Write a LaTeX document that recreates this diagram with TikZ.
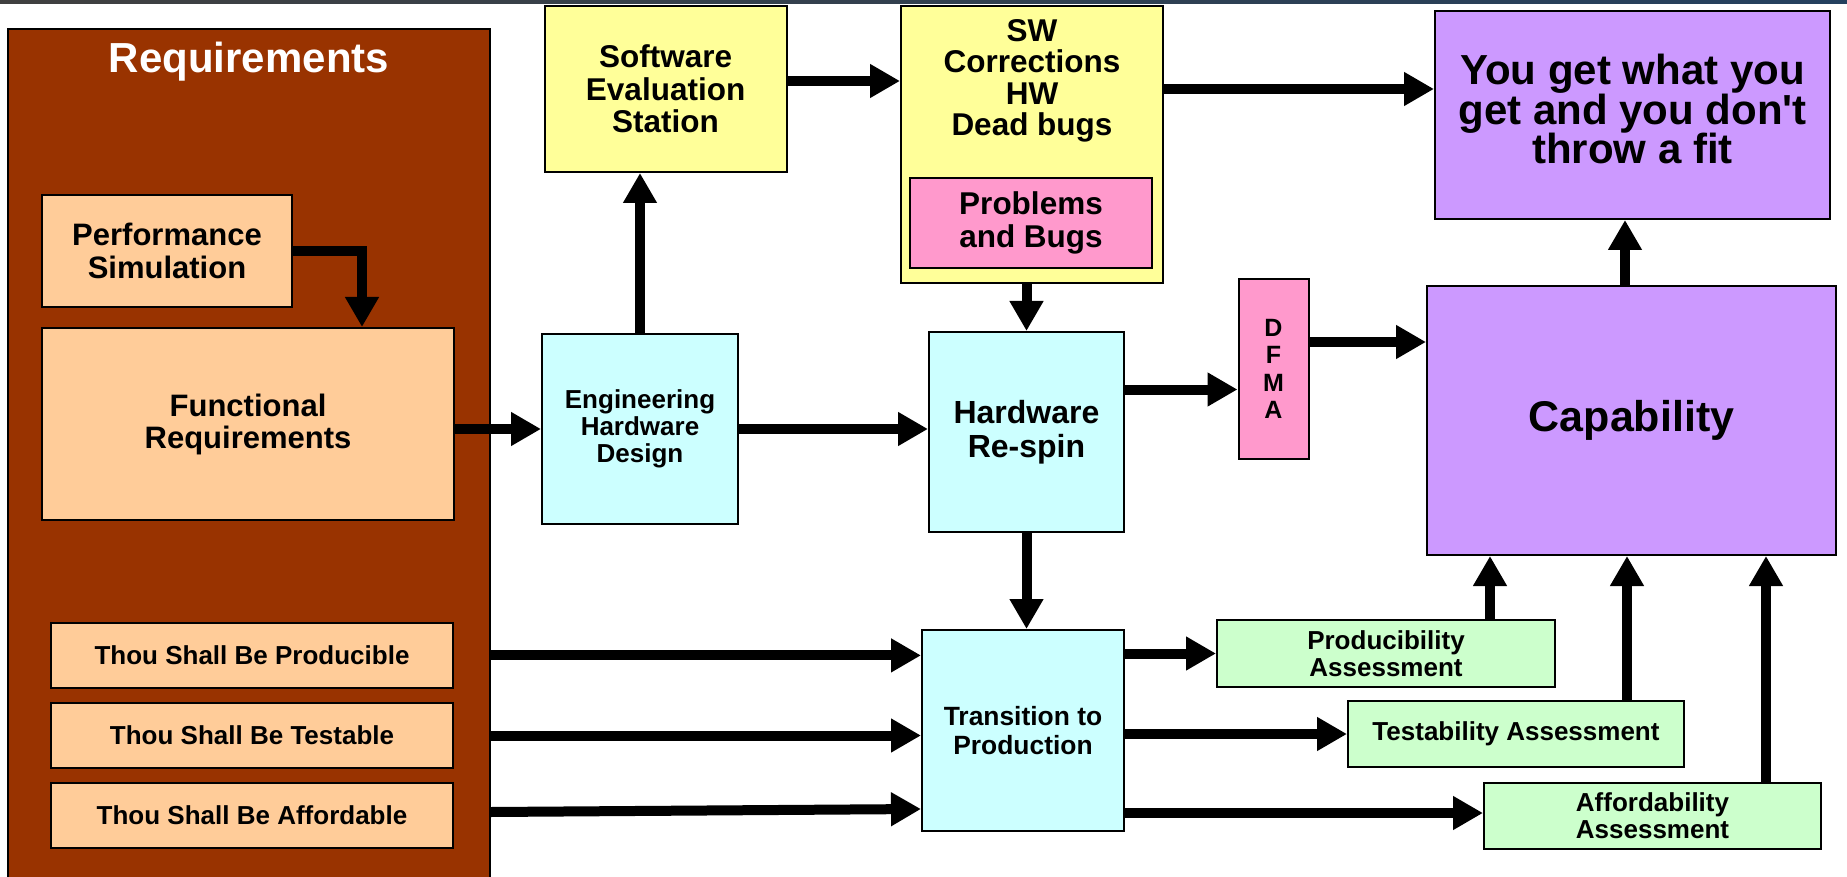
\documentclass[tikz,border=0pt]{standalone}
\usepackage{fontspec}
\setmainfont{Liberation Sans}
\newfontfamily\arialfont{Liberation Sans}
\usetikzlibrary{arrows.meta,calc}
\definecolor{reqbrown}{HTML}{993300}
\definecolor{peach}{HTML}{FFCC99}
\definecolor{paleyellow}{HTML}{FFFF99}
\definecolor{pinkbox}{HTML}{FF99CC}
\definecolor{lavender}{HTML}{CC99FF}
\definecolor{palecyan}{HTML}{CCFFFF}
\definecolor{palegreen}{HTML}{CCFFCC}
\definecolor{topbarblue}{HTML}{24405E}
\newcommand{\fsz}[2]{\arialfont\fontsize{#1pt}{#2pt}\selectfont\bfseries}
\begin{document}
\begin{tikzpicture}[x=1pt,y=-1pt,
  box/.style={draw=black, line width=2pt, inner sep=0pt, align=center},
  arr/.style={line width=10pt, line join=miter, -{Triangle[length=30pt,width=32pt]}},
  ]
\clip (0,0) rectangle (1847,877);
\fill[white] (0,0) rectangle (1847,877);
\shade[left color=black!75, right color=topbarblue] (0,0) rectangle (1847,3.5);

% Requirements column
\node[box, fill=reqbrown, minimum width=481.6pt, minimum height=861pt] (req) at (249.2,459.5) {};
\node[text=white, font=\fsz{42}{44}, anchor=base, inner sep=0pt] (title) at (249,73) {Requirements};
\node[box, fill=peach, font=\fsz{31}{33}, minimum width=250pt, minimum height=112pt] (perf) at (167,251) {Performance\\Simulation};
\node[box, fill=peach, font=\fsz{31}{32}, minimum width=412pt, minimum height=192pt] (func) at (248,424) {Functional\\Requirements};
\node[box, fill=peach, font=\fsz{26}{28}, minimum width=402pt, minimum height=65pt] (thou1) at (252,655.4) {Thou Shall Be Producible};
\node[box, fill=peach, font=\fsz{26}{28}, minimum width=402pt, minimum height=65pt] (thou2) at (252,735.5) {Thou Shall Be Testable};
\node[box, fill=peach, font=\fsz{26}{28}, minimum width=402pt, minimum height=65pt] (thou3) at (252,815.5) {Thou Shall Be Affordable};

% top row
\node[box, fill=paleyellow, font=\fsz{31.5}{32.5}, minimum width=242pt, minimum height=166pt] (ses) at (665.6,89) {Software\\Evaluation\\Station};
\node[box, fill=paleyellow, minimum width=262pt, minimum height=277pt] (swc) at (1032,144.5) {};
\node[font=\fsz{31.5}{31.5}, align=center, inner sep=0pt] (swctext) at (1032,81) {SW\\Corrections\\HW\\Dead bugs};
\node[box, fill=pinkbox, font=\fsz{31.5}{33}, minimum width=242pt, minimum height=90pt] (prob) at (1031,223) {Problems\\and Bugs};
\node[box, fill=lavender, minimum width=395pt, minimum height=208pt] (you) at (1632.5,115) {};
\node[font=\fsz{42}{39.5}, align=center, inner sep=0pt] (youtext) at (1632.5,109) {You get what you\\get and you don't\\throw a fit};

% middle row
\node[box, fill=palecyan, font=\fsz{26}{26.7}, minimum width=196pt, minimum height=190pt] (ehd) at (640,429) {Engineering\\Hardware\\Design};
\node[box, fill=palecyan, font=\fsz{32}{34}, minimum width=195pt, minimum height=200pt] (hwr) at (1026.5,432) {Hardware\\Re-spin};
\node[box, fill=pinkbox, font=\fsz{25}{27.4}, minimum width=70pt, minimum height=180pt] (dfma) at (1273.5,369) {D\\F\\M\\A};
\node[box, fill=lavender, font=\fsz{43}{45}, minimum width=409pt, minimum height=269pt] (cap) at (1631.5,420.5) {Capability};

% bottom row
\node[box, fill=palecyan, font=\fsz{26.4}{29}, minimum width=202pt, minimum height=201pt] (trans) at (1023,730.5) {Transition to\\Production};
\node[box, fill=palegreen, font=\fsz{26}{27}, minimum width=338pt, minimum height=67pt] (prod) at (1386,653.5) {Producibility\\Assessment};
\node[box, fill=palegreen, font=\fsz{26}{27}, minimum width=336pt, minimum height=66pt] (test) at (1516,734) {Testability Assessment};
\node[box, fill=palegreen, font=\fsz{26}{27}, minimum width=337pt, minimum height=66pt] (aff) at (1652.5,816) {Affordability\\Assessment};

% connectors
\draw[arr] (perf.east) -| ($(func.north)+(114,0)$);
\draw[arr] (func.east |- ehd.west) -- (ehd.west);
\draw[arr] (ehd.north) -- (ehd.north |- ses.south);
\draw[arr] ($(ses.east)+(0,-8)$) -- ($(ses.east -| swc.west)+(0,-8)$);
\draw[arr] ($(swc.east |- you.west)+(0,-26)$) -- ($(you.west)+(0,-26)$);
\draw[arr] (hwr.north |- swc.south) -- (hwr.north);
\draw[arr] (ehd.east) -- (ehd.east -| hwr.west);
\draw[arr] ($(hwr.east)+(0,-42.5)$) -- ($(hwr.east -| dfma.west)+(0,-42.5)$);
\draw[arr] ($(dfma.east)+(0,-27)$) -- ($(dfma.east -| cap.west)+(0,-27)$);
\draw[arr] ($(cap.north)+(-6.5,0)$) -- ($(cap.north |- you.south)+(-6.5,0)$);
\draw[arr] (hwr.south) -- (hwr.south |- trans.north);
\draw[arr] (req.east |- thou1.east) -- (trans.west |- thou1.east);
\draw[arr] (req.east |- thou2.east) -- (trans.west |- thou2.east);
\draw[arr] ($(req.east |- thou3.east)+(0,-3.5)$) -- ($(trans.west |- thou3.east)+(0,-6.5)$);
\draw[arr] (trans.east |- prod.west) -- (prod.west);
\draw[arr] (trans.east |- test.west) -- (test.west);
\draw[arr] ($(trans.east |- aff.west)+(0,-3)$) -- ($(aff.west)+(0,-3)$);
\draw[arr] ($(prod.north)+(104,0)$) -- ($(prod.north |- cap.south)+(104,0)$);
\draw[arr] ($(test.north)+(111,0)$) -- ($(test.north |- cap.south)+(111,0)$);
\draw[arr] ($(aff.north)+(113.5,0)$) -- ($(aff.north |- cap.south)+(113.5,0)$);
\end{tikzpicture}
\end{document}
